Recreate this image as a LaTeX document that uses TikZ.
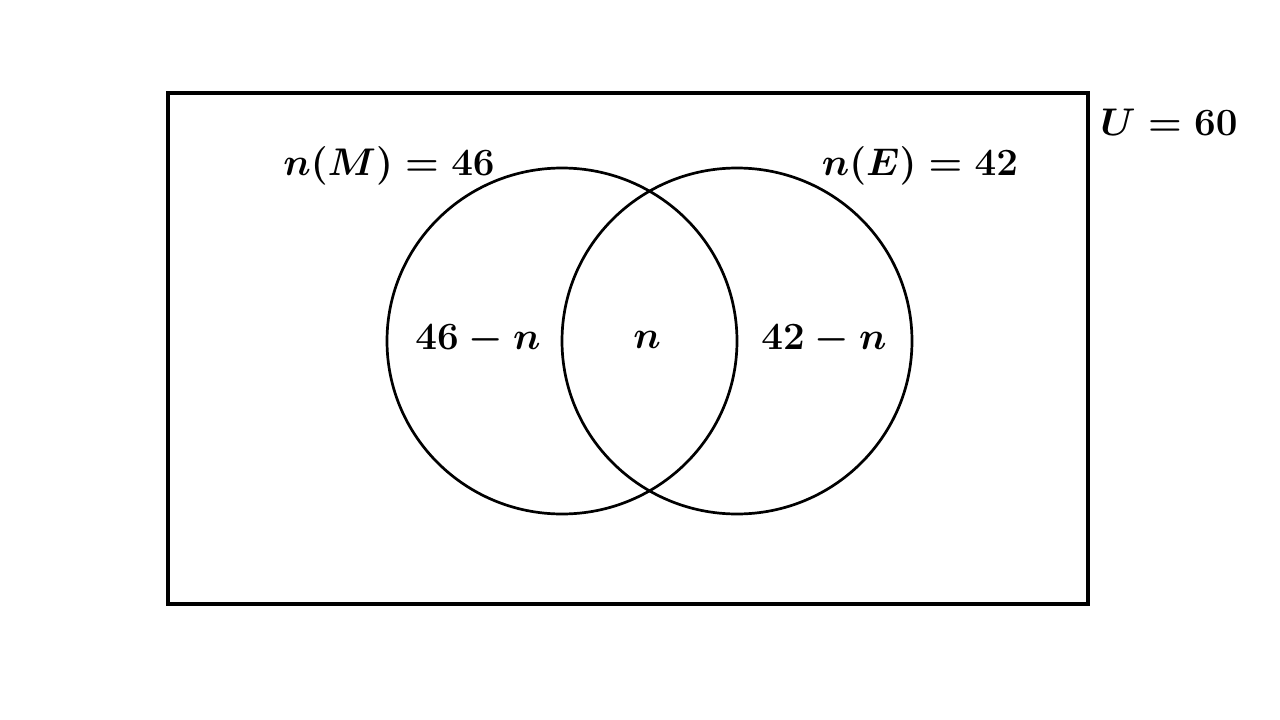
\documentclass[tikz,border=0pt]{standalone}
\usepackage{amsmath}
\tikzset{
  lbl/.style={inner sep=0pt, font=\Huge\boldmath, scale=1.55},
  frame/.style={draw=black, line width=3.5pt},
  setc/.style={draw=black, line width=2.7pt}
}
\begin{document}
\begin{tikzpicture}[x=1pt,y=-1pt]
\useasboundingbox[fill=white] (0,0) rectangle (1280,720);
\draw[frame] (168,93) rectangle (1088,604);
\draw[setc] (562,341) ellipse [x radius=175, y radius=173];
\draw[setc] (737,341) ellipse [x radius=175, y radius=173];
\node[lbl] (nm) at (389,166) {$n(M)=46$};
\node[lbl] (ne) at (920,166) {$n(E)=42$};
\node[lbl] (u) at (1169,122) {$U=60$};
\node[lbl] (a) at (478,340) {$46-n$};
\node[lbl] (b) at (647,340) {$n$};
\node[lbl] (c) at (824,340) {$42-n$};
\end{tikzpicture}
\end{document}
